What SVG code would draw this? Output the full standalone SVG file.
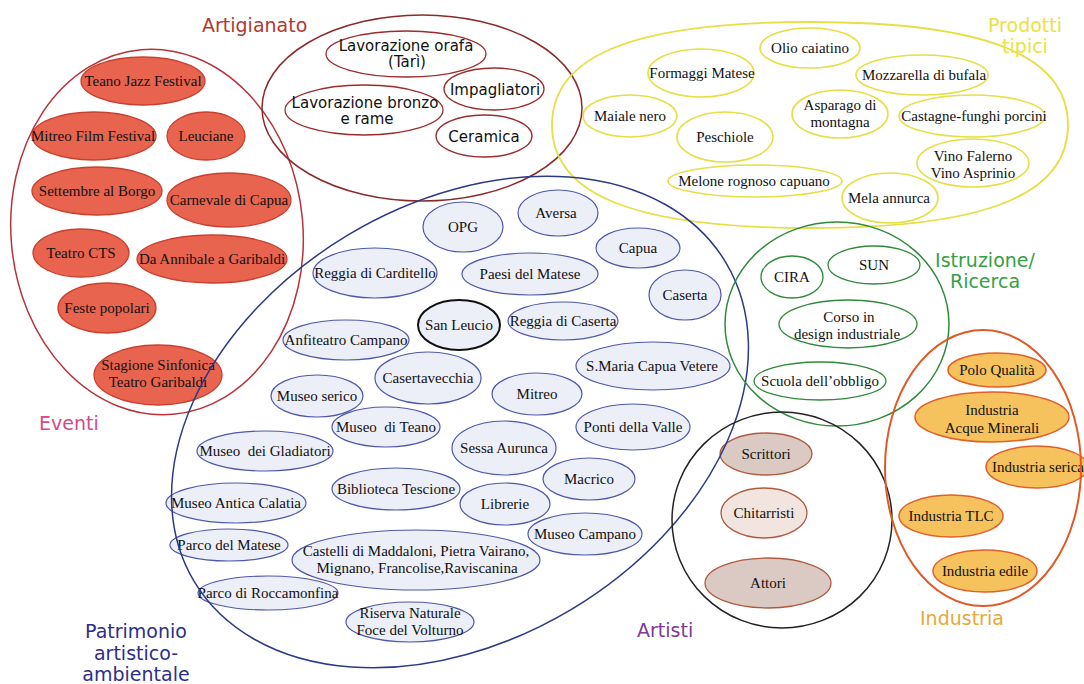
<svg xmlns="http://www.w3.org/2000/svg" width="1084" height="684" viewBox="0 0 1084 684">
<style>
.ev{fill:#e8644f;stroke:#c8402f;stroke-width:1.3}
.ar{fill:#fff;stroke:#9b2c2c;stroke-width:1.3}
.pt{fill:#fff;stroke:#e6df45;stroke-width:1.6}
.pa{fill:#eceef8;stroke:#4f58a8;stroke-width:1.2}
.sl{fill:#eceef8;stroke:#111;stroke-width:2}
.is{fill:#fff;stroke:#2f8a3a;stroke-width:1.3}
.at{fill:#dbc9c3;stroke:#b05a40;stroke-width:1.3}
.at2{fill:#f2e4de;stroke:#b05a40;stroke-width:1.3}
.in{fill:#f6c25e;stroke:#e0602a;stroke-width:1.5}
.t{font-family:"Liberation Serif","Times New Roman",serif;font-size:15px;fill:#111;text-anchor:middle}
.s{font-family:"DejaVu Sans",Verdana,sans-serif;font-size:15px;fill:#111;text-anchor:middle}
.lbl{font-family:"DejaVu Sans",Verdana,sans-serif;font-size:19px}
.c{fill:none}
</style>
<rect width="1084" height="684" fill="#fff"/>

<!-- Eventi nodes -->
<g id="ev1"><ellipse class="ev" cx="143" cy="81" rx="62" ry="24"/><text class="t" x="143" y="86">Teano Jazz Festival</text></g>
<g id="ev2"><ellipse class="ev" cx="94" cy="136" rx="62" ry="24"/><text class="t" x="93" y="141">Mitreo Film Festival</text></g>
<g id="ev3"><ellipse class="ev" cx="206" cy="136" rx="39" ry="24"/><text class="t" x="206" y="141">Leuciane</text></g>
<g id="ev4"><ellipse class="ev" cx="97" cy="191" rx="65" ry="24"/><text class="t" x="97" y="196">Settembre al Borgo</text></g>
<g id="ev5"><ellipse class="ev" cx="229" cy="200" rx="62" ry="27"/><text class="t" x="229" y="205">Carnevale di Capua</text></g>
<g id="ev6"><ellipse class="ev" cx="81" cy="253" rx="48" ry="24"/><text class="t" x="81" y="258">Teatro CTS</text></g>
<g id="ev7"><ellipse class="ev" cx="212" cy="259" rx="75" ry="24"/><text class="t" x="212" y="264">Da Annibale a Garibaldi</text></g>
<g id="ev8"><ellipse class="ev" cx="107" cy="308" rx="49" ry="25"/><text class="t" x="107" y="313">Feste popolari</text></g>
<g id="ev9"><ellipse class="ev" cx="158" cy="375" rx="64" ry="30"/><text class="t" x="158" y="370">Stagione Sinfonica</text><text class="t" x="158" y="387">Teatro Garibaldi</text></g>

<!-- Artigianato nodes -->
<g id="ar1"><ellipse class="ar" cx="406" cy="54" rx="80" ry="23"/><text class="s" x="406" y="51">Lavorazione orafa</text><text class="s" x="407" y="67">(Tarì)</text></g>
<g id="ar2"><ellipse class="ar" cx="494" cy="89" rx="50" ry="21"/><text class="s" x="495" y="95">Impagliatori</text></g>
<g id="ar3"><ellipse class="ar" cx="364" cy="110" rx="79" ry="25"/><text class="s" x="365" y="108">Lavorazione bronzo</text><text class="s" x="367" y="124">e rame</text></g>
<g id="ar4"><ellipse class="ar" cx="484" cy="136" rx="48" ry="21"/><text class="s" x="484" y="142">Ceramica</text></g>

<!-- Prodotti tipici nodes -->
<g id="pt1"><ellipse class="pt" cx="810" cy="48" rx="50" ry="20"/><text class="t" x="810" y="53">Olio caiatino</text></g>
<g id="pt2"><ellipse class="pt" cx="701" cy="73" rx="53" ry="24"/><text class="t" x="702" y="78">Formaggi Matese</text></g>
<g id="pt3"><ellipse class="pt" cx="922" cy="75" rx="66" ry="20"/><text class="t" x="924" y="80">Mozzarella di bufala</text></g>
<g id="pt4"><ellipse class="pt" cx="630" cy="116" rx="47" ry="21"/><text class="t" x="630" y="121">Maiale nero</text></g>
<g id="pt5"><ellipse class="pt" cx="840" cy="114" rx="48" ry="24"/><text class="t" x="840" y="110">Asparago di</text><text class="t" x="840" y="127">montagna</text></g>
<g id="pt6"><ellipse class="pt" cx="972" cy="116" rx="73" ry="21"/><text class="t" x="974" y="121">Castagne-funghi porcini</text></g>
<g id="pt7"><ellipse class="pt" cx="725" cy="137" rx="48" ry="25"/><text class="t" x="725" y="142">Peschiole</text></g>
<g id="pt8"><ellipse class="pt" cx="755" cy="181" rx="87" ry="16"/><text class="t" x="754" y="186">Melone rognoso capuano</text></g>
<g id="pt9"><ellipse class="pt" cx="973" cy="163" rx="56" ry="24"/><text class="t" x="973" y="161">Vino Falerno</text><text class="t" x="973" y="178">Vino Asprinio</text></g>
<g id="pt10"><ellipse class="pt" cx="890" cy="198" rx="48" ry="25"/><text class="t" x="889" y="203">Mela annurca</text></g>

<!-- Patrimonio nodes -->
<g id="pa1"><ellipse class="pa" cx="463" cy="227" rx="40" ry="25"/><text class="t" x="463" y="232">OPG</text></g>
<g id="pa2"><ellipse class="pa" cx="558" cy="213" rx="40" ry="23"/><text class="t" x="556" y="218">Aversa</text></g>
<g id="pa3"><ellipse class="pa" cx="638" cy="248" rx="42" ry="20"/><text class="t" x="638" y="253">Capua</text></g>
<g id="pa4"><ellipse class="pa" cx="530" cy="274" rx="68" ry="21"/><text class="t" x="530" y="279">Paesi del Matese</text></g>
<g id="pa5"><ellipse class="pa" cx="685" cy="295" rx="36" ry="25"/><text class="t" x="685" y="300">Caserta</text></g>
<g id="pa6"><ellipse class="pa" cx="375" cy="273" rx="62" ry="25"/><text class="t" x="375" y="278">Reggia di Carditello</text></g>
<g id="pa7"><ellipse class="sl" cx="459" cy="325" rx="41" ry="25"/><text class="t" x="459" y="330">San Leucio</text></g>
<g id="pa8"><ellipse class="pa" cx="563" cy="321" rx="55" ry="19"/><text class="t" x="563" y="326">Reggia di Caserta</text></g>
<g id="pa9"><ellipse class="pa" cx="346" cy="340" rx="63" ry="20"/><text class="t" x="346" y="345">Anfiteatro Campano</text></g>
<g id="pa10"><ellipse class="pa" cx="653" cy="366" rx="77" ry="24"/><text class="t" x="652" y="371">S.Maria Capua Vetere</text></g>
<g id="pa11"><ellipse class="pa" cx="428" cy="378" rx="53" ry="26"/><text class="t" x="428" y="383">Casertavecchia</text></g>
<g id="pa12"><ellipse class="pa" cx="537" cy="394" rx="45" ry="21"/><text class="t" x="537" y="399">Mitreo</text></g>
<g id="pa13"><ellipse class="pa" cx="317" cy="396" rx="46" ry="21"/><text class="t" x="317" y="401">Museo serico</text></g>
<g id="pa14"><ellipse class="pa" cx="386" cy="427" rx="54" ry="20"/><text class="t" x="386" y="432" xml:space="preserve">Museo  di Teano</text></g>
<g id="pa15"><ellipse class="pa" cx="633" cy="427" rx="57" ry="23"/><text class="t" x="633" y="432">Ponti della Valle</text></g>
<g id="pa16"><ellipse class="pa" cx="504" cy="448" rx="52" ry="27"/><text class="t" x="504" y="453">Sessa Aurunca</text></g>
<g id="pa17"><ellipse class="pa" cx="265" cy="451" rx="68" ry="20"/><text class="t" x="265" y="456" xml:space="preserve">Museo  dei Gladiatori</text></g>
<g id="pa18"><ellipse class="pa" cx="589" cy="479" rx="46" ry="21"/><text class="t" x="589" y="484">Macrico</text></g>
<g id="pa19"><ellipse class="pa" cx="396" cy="489" rx="64" ry="21"/><text class="t" x="396" y="494">Biblioteca Tescione</text></g>
<g id="pa20"><ellipse class="pa" cx="505" cy="504" rx="45" ry="21"/><text class="t" x="505" y="509">Librerie</text></g>
<g id="pa21"><ellipse class="pa" cx="236" cy="503" rx="70" ry="20"/><text class="t" x="236" y="508">Museo Antica Calatia</text></g>
<g id="pa22"><ellipse class="pa" cx="585" cy="534" rx="57" ry="21"/><text class="t" x="585" y="539">Museo Campano</text></g>
<g id="pa23"><ellipse class="pa" cx="229" cy="545" rx="59" ry="16"/><text class="t" x="229" y="550">Parco del Matese</text></g>
<g id="pa24"><ellipse class="pa" cx="416" cy="560" rx="124" ry="30"/><text class="t" x="416" y="556">Castelli di Maddaloni, Pietra Vairano,</text><text class="t" x="417" y="573">Mignano, Francolise,Raviscanina</text></g>
<g id="pa25"><ellipse class="pa" cx="268" cy="593" rx="70" ry="17"/><text class="t" x="268" y="598">Parco di Roccamonfina</text></g>
<g id="pa26"><ellipse class="pa" cx="410" cy="622" rx="64" ry="20"/><text class="t" x="410" y="618">Riserva Naturale</text><text class="t" x="410" y="635">Foce del Volturno</text></g>

<!-- Istruzione nodes -->
<g id="is1"><ellipse class="is" cx="792" cy="277" rx="31" ry="21"/><text class="t" x="792" y="282">CIRA</text></g>
<g id="is2"><ellipse class="is" cx="874" cy="265" rx="46" ry="19"/><text class="t" x="874" y="270">SUN</text></g>
<g id="is3"><ellipse class="is" cx="848" cy="324" rx="69" ry="24"/><text class="t" x="849" y="322">Corso in</text><text class="t" x="847" y="339">design industriale</text></g>
<g id="is4"><ellipse class="is" cx="820" cy="381" rx="66" ry="19"/><text class="t" x="820" y="386">Scuola dell’obbligo</text></g>

<!-- Artisti nodes -->
<g id="at1"><ellipse class="at" cx="766" cy="454" rx="46" ry="21"/><text class="t" x="766" y="459">Scrittori</text></g>
<g id="at2"><ellipse class="at2" cx="764" cy="513" rx="43" ry="25"/><text class="t" x="764" y="518">Chitarristi</text></g>
<g id="at3"><ellipse class="at" cx="768" cy="583" rx="63" ry="25"/><text class="t" x="768" y="588">Attori</text></g>

<!-- Industria nodes -->
<g id="in1"><ellipse class="in" cx="997" cy="370" rx="49" ry="17"/><text class="t" x="997" y="375">Polo Qualità</text></g>
<g id="in2"><ellipse class="in" cx="992" cy="417" rx="77" ry="25"/><text class="t" x="992" y="415">Industria</text><text class="t" x="992" y="433">Acque Minerali</text></g>
<g id="in3"><ellipse class="in" cx="1037" cy="467" rx="51" ry="21"/><text class="t" x="1038" y="472">Industria serica</text></g>
<g id="in4"><ellipse class="in" cx="951" cy="516" rx="52" ry="21"/><text class="t" x="951" y="521">Industria TLC</text></g>
<g id="in5"><ellipse class="in" cx="985" cy="571" rx="52" ry="21"/><text class="t" x="985" y="576">Industria edile</text></g>

<!-- Group containers -->
<g id="containers" class="c">
<ellipse id="grp-eventi" cx="157" cy="232" rx="146" ry="183" transform="rotate(-5 157 232)" stroke="#b8323a" stroke-width="1.5" fill="none"/>
<ellipse id="grp-artigianato" cx="422" cy="108" rx="160" ry="93" stroke="#8b2a2a" stroke-width="1.5" fill="none"/>
<path id="grp-prodotti" d="M1068,125 C1068,195 985.4,228 810,228 C634.6,228 552,195 552,125 C552,55 634.6,22 810,22 C985.4,22 1068,55 1068,125 Z" stroke="#e6df45" stroke-width="1.8" fill="none"/>
<ellipse id="grp-patrimonio" cx="460" cy="422" rx="310" ry="218" transform="rotate(-31 460 422)" stroke="#2c3a84" stroke-width="1.5" fill="none"/>
<ellipse id="grp-istruzione" cx="837" cy="324" rx="112" ry="102" stroke="#2f8a3a" stroke-width="1.5" fill="none"/>
<ellipse id="grp-artisti" cx="782" cy="520" rx="110" ry="108" stroke="#222" stroke-width="1.5" fill="none"/>
<ellipse id="grp-industria" cx="983" cy="468" rx="98" ry="138" stroke="#e05a28" stroke-width="2" fill="none"/>
</g>

<!-- Group labels -->
<g id="labels" class="lbl">
<text x="202" y="32" fill="#b03a2e">Artigianato</text>
<text x="1025" y="32" fill="#e9e23f" text-anchor="middle">Prodotti</text>
<text x="1025" y="53" fill="#e9e23f" text-anchor="middle">tipici</text>
<text x="985" y="267" fill="#35a045" text-anchor="middle">Istruzione/</text>
<text x="985" y="288" fill="#35a045" text-anchor="middle">Ricerca</text>
<text x="39" y="430" fill="#d44a86">Eventi</text>
<text x="136" y="638" fill="#2e2e8a" text-anchor="middle">Patrimonio</text>
<text x="136" y="660" fill="#2e2e8a" text-anchor="middle">artistico-</text>
<text x="136" y="681" fill="#2e2e8a" text-anchor="middle">ambientale</text>
<text x="637" y="637" fill="#7d3a96">Artisti</text>
<text x="920" y="625" fill="#e8a838">Industria</text>
</g>
</svg>
